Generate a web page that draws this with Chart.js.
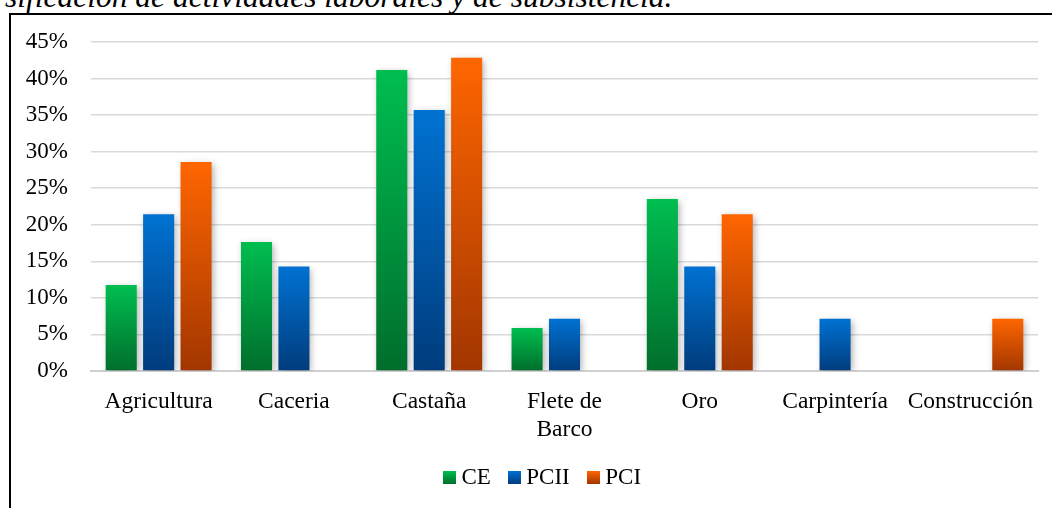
<!DOCTYPE html>
<html>
<head>
<meta charset="utf-8">
<script src="https://cdn.jsdelivr.net/npm/chart.js@4.4.1/dist/chart.umd.min.js"></script>
<style>
  html, body { margin: 0; padding: 0; background: #fff; }
  body { width: 1052px; height: 508px; position: relative; overflow: hidden; }
  #title { position: absolute; left: 5px; top: -19px; font-family: "Liberation Serif", "Times New Roman", serif; font-style: italic; font-weight: normal; font-size: 31.5px; line-height: 31.5px; white-space: nowrap; color: #000; }
  #frame { position: absolute; left: 9px; top: 13px; width: 1100px; height: 600px; border-left: 2px solid #000; border-top: 2px solid #000; }
  #wrap { position: absolute; left: 0; top: 0; width: 1052px; height: 508px; }
</style>
</head>
<body>
<div id="title">sificación de actividades laborales y de subsistencia.</div>
<div id="frame"></div>
<div id="wrap"><canvas id="c" width="1052" height="508"></canvas></div>
<script>
const categories = ["Agricultura", "Caceria", "Castaña", ["Flete de", "Barco"], "Oro", "Carpintería", "Construcción"];
const seriesNames = ["CE", "PCII", "PCI"];
const CE   = [11.76, 17.65, 41.18, 5.88, 23.53, null, null];
const PCII = [21.43, 14.29, 35.71, 7.14, 14.29, 7.14, null];
const PCI  = [28.57, null, 42.86, null, 21.43, null, 7.14];
const yTicks = [0, 5, 10, 15, 20, 25, 30, 35, 40, 45];

const palettes = [
  { top: "#00BE50", bottom: "#006E2C", mid: "#00974A" },
  { top: "#0072D2", bottom: "#003C7C", mid: "#0058A8" },
  { top: "#FF6600", bottom: "#A23600", mid: "#D84E00" }
];

function barGradient(pal) {
  return function (ctx) {
    const chart = ctx.chart;
    const ys = chart.scales && chart.scales.y;
    if (!chart.chartArea || !ys || ctx.raw == null) return pal.mid;
    const yTop = ys.getPixelForValue(ctx.raw);
    const yBase = ys.getPixelForValue(0);
    if (!isFinite(yTop) || Math.abs(yBase - yTop) < 1) return pal.mid;
    const g = chart.ctx.createLinearGradient(0, yTop, 0, yBase);
    g.addColorStop(0, pal.top);
    g.addColorStop(1, pal.bottom);
    return g;
  };
}

function legendSwatch(pal) {
  const cv = document.createElement("canvas");
  cv.width = 13; cv.height = 13;
  const c = cv.getContext("2d");
  const g = c.createLinearGradient(0, 0, 0, 13);
  g.addColorStop(0, pal.top);
  g.addColorStop(1, pal.bottom);
  c.fillStyle = g;
  c.fillRect(0, 0, 13, 13);
  return cv;
}
const swatches = palettes.map(legendSwatch);

const shadowPlugin = {
  id: "barShadow",
  beforeDatasetsDraw(chart) {
    const c = chart.ctx;
    c.save();
    c.shadowColor = "rgba(0,0,0,0.32)";
    c.shadowBlur = 7;
    c.shadowOffsetX = 2;
    c.shadowOffsetY = 2;
  },
  afterDatasetsDraw(chart) {
    chart.ctx.restore();
  }
};

const legendShift = {
  id: "legendShift",
  afterLayout(chart) {
    if (chart.legend) { chart.legend.left += 26; chart.legend.right += 26; }
  }
};

const seriesData = [CE, PCII, PCI];
const FONT = "'Liberation Serif', 'Times New Roman', serif";

new Chart(document.getElementById("c"), {
  type: "bar",
  data: {
    labels: categories,
    datasets: seriesData.map((d, i) => ({
      label: seriesNames[i],
      data: d,
      backgroundColor: barGradient(palettes[i]),
      borderWidth: 0,
      categoryPercentage: 0.83,
      barPercentage: 0.83
    }))
  },
  options: {
    responsive: false,
    animation: false,
    devicePixelRatio: 1,
    layout: { padding: { left: 0, right: 14, top: 42, bottom: 9 } },
    plugins: {
      title: { display: false },
      tooltip: { enabled: false },
      legend: {
        position: "bottom",
        labels: {
          color: "#000",
          font: { family: FONT, size: 23 },
          usePointStyle: true,
          pointStyleWidth: 1,
          padding: 23,
          generateLabels(chart) {
            const items = Chart.defaults.plugins.legend.labels.generateLabels(chart);
            items.forEach((it, i) => { it.pointStyle = swatches[i]; });
            return items;
          }
        }
      }
    },
    scales: {
      x: {
        grid: { display: false, drawTicks: false },
        border: { display: true, color: "#d0d0d0", width: 2 },
        ticks: {
          color: "#000",
          font: { family: FONT, size: 23.5, lineHeight: 1.2 },
          padding: 17,
          maxRotation: 0,
          autoSkip: false
        },
        afterFit(scale) { scale.height = 72; }
      },
      y: {
        min: 0,
        max: 45,
        afterBuildTicks(scale) { scale.ticks = yTicks.map(v => ({ value: v })); },
        grid: { color: "#d9d9d9", lineWidth: 1.5, drawTicks: false },
        border: { display: false },
        ticks: {
          color: "#000",
          font: { family: FONT, size: 23 },
          padding: 23,
          callback: (v) => v + "%"
        },
        afterFit(scale) { scale.width = 91; }
      }
    }
  },
  plugins: [shadowPlugin, legendShift]
});
</script>
</body>
</html>
